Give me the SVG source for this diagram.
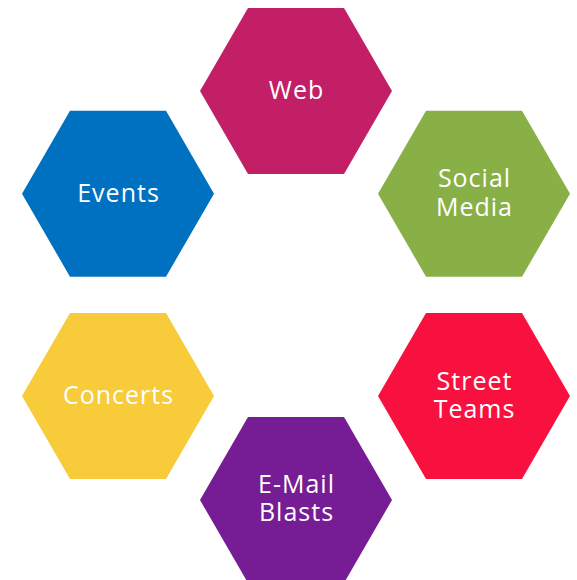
<svg xmlns="http://www.w3.org/2000/svg" width="577" height="580" viewBox="0 0 577 580">
  <defs>
    <!-- regular hexagon centred on the origin, pointy left/right -->
    <polygon id="hex" points="-96,0 -48,-83 48,-83 96,0 48,83 -48,83"/>
    <style>
      .label { font-family: "Open Sans", "DejaVu Sans", sans-serif; font-size: 25px; fill: #ffffff; text-anchor: middle; letter-spacing: 1px; }
    </style>
  </defs>
  <rect width="577" height="580" fill="#ffffff"/>

  <g id="web" transform="translate(296,91)">
    <use href="#hex" fill="#C21F67"/>
    <text class="label" x="0.5" y="8.3">Web</text>
  </g>

  <g id="social-media" transform="translate(474,193.7)">
    <use href="#hex" fill="#88B047"/>
    <text class="label" x="0.5" y="-6.4">Social</text>
    <text class="label" x="0.5" y="22.3">Media</text>
  </g>

  <g id="street-teams" transform="translate(474,396)">
    <use href="#hex" fill="#F8113E"/>
    <text class="label" x="0.5" y="-6">Street</text>
    <text class="label" x="0.5" y="21.7">Teams</text>
  </g>

  <g id="email-blasts" transform="translate(296,500)">
    <use href="#hex" fill="#761C95"/>
    <text class="label" x="0.5" y="-6.7">E-Mail</text>
    <text class="label" x="0.5" y="21">Blasts</text>
  </g>

  <g id="concerts" transform="translate(118,396)">
    <use href="#hex" fill="#F7CB39"/>
    <text class="label" x="0.5" y="8.3">Concerts</text>
  </g>

  <g id="events" transform="translate(118,193.7)">
    <use href="#hex" fill="#0070C0"/>
    <text class="label" x="0.5" y="8">Events</text>
  </g>
</svg>
